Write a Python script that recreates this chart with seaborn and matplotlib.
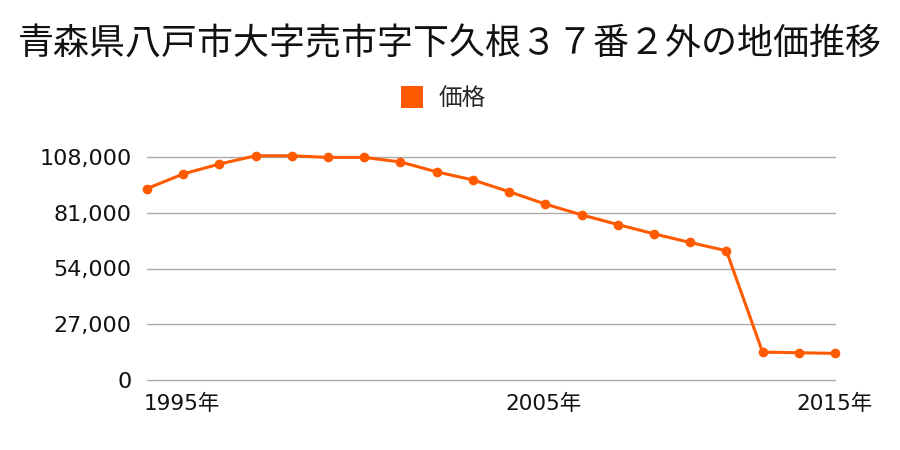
import matplotlib
matplotlib.use("Agg")
import matplotlib.pyplot as plt
import seaborn as sns
import pandas as pd
from matplotlib.lines import Line2D

title = "青森県八戸市大字売市字下久根３７番２外の地価推移"
series_name = "価格"
years = list(range(1995, 2015))
prices = [92700, 99800, 104600, 108600, 108600, 107800, 107800, 105600, 100800, 96900,
          91200, 85200, 80000, 75300, 70800, 66600, 62600, 13500, 13200, 12900]
y_ticks = [0, 27000, 54000, 81000, 108000]
x_ticks = [1995, 2005, 2015]
x_labels = ["1995年", "2005年", "2015年"]

color = "#ff5a00"

sns.set_theme(style="white")
plt.rcParams['font.family'] = ['DejaVu Sans', 'Noto Sans CJK JP']

df = pd.DataFrame({"year": years, "price": prices})

fig = plt.figure(figsize=(9, 4.5), dpi=100)
ax = fig.add_axes([147/900, 1 - 380/450, (835 - 147)/900, (380 - 157)/450])

sns.lineplot(data=df, x="year", y="price", ax=ax, color=color, linewidth=2.2,
             marker="o", markersize=7, markeredgewidth=0, clip_on=False, zorder=3)

ax.set_xlim(1995, 2014)
ax.set_ylim(0, 108000)
ax.set_yticks(y_ticks)
ax.set_yticklabels([f"{v:,}" for v in y_ticks], fontsize=16)
ax.yaxis.grid(True, color="#aaaaaa", linewidth=1)
for gl in ax.get_ygridlines():
    gl.set_clip_on(False)
ax.xaxis.grid(False)
for s in ax.spines.values():
    s.set_visible(False)
ax.tick_params(axis="y", length=0, pad=11, labelcolor="#111111")
ax.set_xticks([])
ax.set_xlabel("")
ax.set_ylabel("")

# x tick labels (left aligned at tick, last one kept inside the figure)
for yr, lab in zip(x_ticks, x_labels):
    if yr <= 2014:
        ax.text(yr - 0.1, -0.06, lab, transform=ax.get_xaxis_transform(),
                ha="left", va="top", fontsize=15.5, color="#111111",
                family=['DejaVu Sans', 'Noto Sans CJK JP'])
    else:
        ax.text(yr + 0.05, -0.06, lab, transform=ax.get_xaxis_transform(),
                ha="right", va="top", fontsize=15.5, color="#111111", clip_on=False,
                family=['DejaVu Sans', 'Noto Sans CJK JP'])

fig.text(0.5, 1 - 44/450, title, ha="center", va="center", fontsize=25.9,
         family=['Noto Sans CJK JP', 'DejaVu Sans'], color="#111111")

handle = Line2D([], [], marker="s", linestyle="none", markersize=16,
                markerfacecolor=color, markeredgewidth=0)
leg = fig.legend([handle], [series_name], loc="center", bbox_to_anchor=(437/900, 1 - 99/450),
                 frameon=False, handletextpad=0.1,
                 prop={"family": ['Noto Sans CJK JP', 'DejaVu Sans'], "size": 17})

fig.savefig("out.png", dpi=100)
